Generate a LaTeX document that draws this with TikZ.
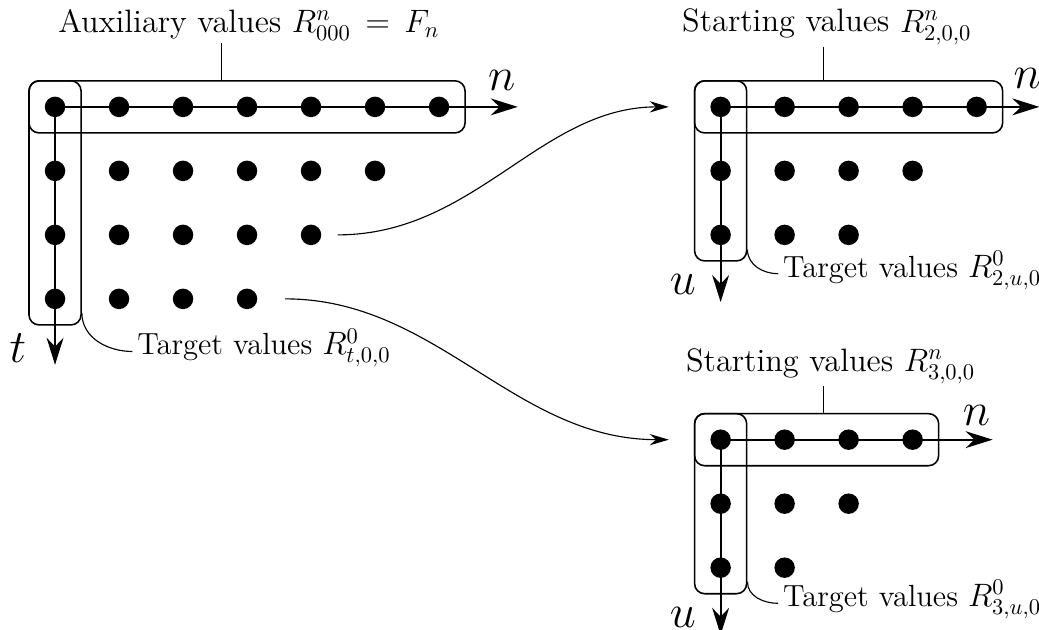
\documentclass[tikz,border=0pt]{standalone}
\usepackage{amsmath}
\usepackage{amssymb}
\usetikzlibrary{arrows.meta,fit}

\begin{document}
\begin{tikzpicture}[
  dot/.style={circle,fill,inner sep=0pt,minimum size=0.32cm},
  axis/.style={line width=0.9pt,-{Stealth[length=12pt,width=7.5pt]}},
  valbox/.style={draw,line width=0.7pt,rounded corners=4.5pt,inner sep=0.24cm},
  link/.style={line width=0.5pt,-{Stealth[length=8.5pt,width=5pt]}},
  lead/.style={line width=0.5pt},
  tag/.style={font=\Large,inner sep=3pt},
  target/.style={font=\fontsize{13.6}{16}\selectfont,inner sep=2pt,anchor=base west},
  var/.style={font=\huge}]
  \useasboundingbox (-0.86,-8.17) rectangle (15.375,1.67);

  % table in t and n
  \foreach \r/\last in {0/6,1/5,2/4,3/3}
    \foreach \c in {0,...,\last}
      \node[dot] (a-\r-\c) at (\c,-\r) {};
  \node[valbox,fit=(a-0-0)(a-0-6)] (a-top) {};
  \node[valbox,fit=(a-0-0)(a-3-0)] (a-side) {};
  \draw[axis] (a-0-0.center) -- (7.23,0) coordinate (a-n);
  \draw[axis] (a-0-0.center) -- (0,-4.03) coordinate (a-t);
  \node[var] (a-nlab) at (6.98,0.42) {$n$};
  \node[var] (a-tlab) at (-0.58,-3.77) {$t$};
  \node[tag,anchor=base] (a-aux) at (3.03,1.16) {Auxiliary values $R^n_{000} \,=\, F_n$};
  \draw[lead] (a-top.north -| 2.6,0) -- ([yshift=2pt]a-aux.south -| 2.6,0);
  \node[target] (a-target) at (1.21,-3.875) {Target values $R^0_{t,0,0}$};
  \draw[lead] (a-side.east |- 0,-3.22) to[out=-90,in=180] ([yshift=1.5pt]a-target.base west);

  % table in u and n, first step
  \begin{scope}[shift={(10.4,0)}]
    \foreach \r/\last in {0/4,1/3,2/2}
      \foreach \c in {0,...,\last}
        \node[dot] (b-\r-\c) at (\c,-\r) {};
    \node[valbox,fit=(b-0-0)(b-0-4)] (b-top) {};
    \node[valbox,fit=(b-0-0)(b-2-0)] (b-side) {};
    \draw[axis] (b-0-0.center) -- (4.98,0) coordinate (b-n);
    \draw[axis] (b-0-0.center) -- (0,-3.05) coordinate (b-u);
    \node[var] (b-nlab) at (4.79,0.44) {$n$};
    \node[var] (b-ulab) at (-0.59,-2.78) {$u$};
    \node[tag,anchor=base] (b-start) at (1.66,1.17) {Starting values $R^n_{2,0,0}$};
    \draw[lead] (b-top.north -| 1.61,0) -- ([yshift=2pt]b-start.south -| 1.61,0);
    \node[target] (b-target) at (0.9,-2.66) {Target values $R^0_{2,u,0}$};
    \draw[lead] (b-side.east |- 0,-2.23) to[out=-90,in=180] ([yshift=1.5pt]b-target.base west);
  \end{scope}

  % table in u and n, second step
  \begin{scope}[shift={(10.4,-5.2)}]
    \foreach \r/\last in {0/3,1/2,2/1}
      \foreach \c in {0,...,\last}
        \node[dot] (c-\r-\c) at (\c,-\r) {};
    \node[valbox,fit=(c-0-0)(c-0-3)] (c-top) {};
    \node[valbox,fit=(c-0-0)(c-2-0)] (c-side) {};
    \draw[axis] (c-0-0.center) -- (4.25,0) coordinate (c-n);
    \draw[axis] (c-0-0.center) -- (0,-3.05) coordinate (c-u);
    \node[var] (c-nlab) at (4.0,0.375) {$n$};
    \node[var] (c-ulab) at (-0.59,-2.78) {$u$};
    \node[tag,anchor=base] (c-start) at (1.72,1.07) {Starting values $R^n_{3,0,0}$};
    \draw[lead] (c-top.north -| 1.61,0) -- ([yshift=2pt]c-start.south -| 1.61,0);
    \node[target] (c-target) at (0.9,-2.61) {Target values $R^0_{3,u,0}$};
    \draw[lead] (c-side.east |- 0,-2.22) to[out=-90,in=180] ([yshift=1.5pt]c-target.base west);
  \end{scope}

  % rows handed over to the smaller tables
  \draw[link,shorten <=0.25cm,shorten >=0.39cm] (a-2-4) to[out=0,in=180] (b-side.west |- b-0-0);
  \draw[link,shorten <=0.43cm,shorten >=0.39cm] (a-3-3) to[out=0,in=180] (c-side.west |- c-0-0);
\end{tikzpicture}
\end{document}
